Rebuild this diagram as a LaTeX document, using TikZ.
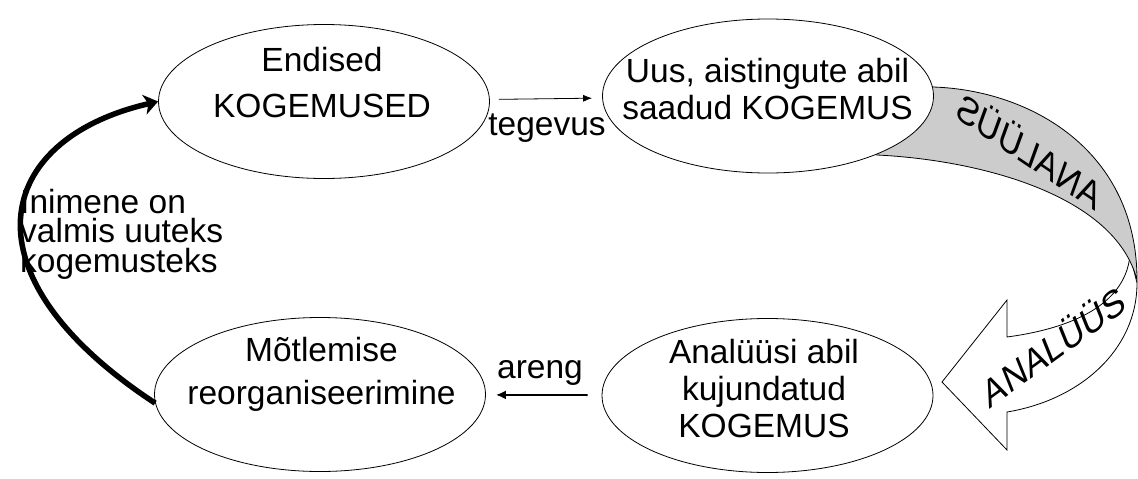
\documentclass[tikz,border=0pt]{standalone}
\usepackage{fontspec}
\setmainfont{Liberation Sans}
\newfontfamily\ribbonfont[FakeSlant=0.25]{Liberation Sans}
\usepackage{graphicx}
\usetikzlibrary{shapes.geometric,arrows.meta}

\tikzset{
  bubble/.style={draw, ellipse, line width=0.8pt, fill=white,
    minimum width=331pt, minimum height=154pt, inner sep=0pt},
  bubbletext/.style={align=center, inner sep=0pt,
    font=\fontsize{33.5}{37}\selectfont},
  lbl/.style={inner sep=0pt, font=\fontsize{33.5}{37}\selectfont},
  ribbontext/.style={inner sep=0pt, font=\ribbonfont\fontsize{36}{36}\selectfont},
}

\begin{document}
\begin{tikzpicture}[x=1pt,y=-1pt]
   \useasboundingbox (0,0) rectangle (1138,479);

   % ribbon ANALUUS
   \draw[line width=0.8pt, fill=white] (1130,255) .. controls (1125,310) and (1060,330) .. (1007,337)
      -- (1007,300) -- (942,382) -- (1007,450) -- (1007,412)
      .. controls (1080,400) and (1137,350) .. (1137,283) -- cycle;
   \draw[line width=0.8pt, fill=black!20] (925,80) -- (933,87)
      .. controls (1030,90) and (1137,150) .. (1137,280)
      .. controls (1115,195) and (980,160) .. (877,155) -- (860,150) -- cycle;
   \node[ribbontext, rotate=-34] (tagurpidi) at (1033,152) {\reflectbox{ANALÜÜS}};
   \node[ribbontext, rotate=36] (analyystekst) at (1050,347) {ANALÜÜS};

   % ellipsid
   \node[bubble] (endised) at (324,101.5) {};
   \node[bubble] (uus) at (768,96) {};
   \node[bubble] (analyys) at (767.5,395.5) {};
   \node[bubble] (motlemine) at (320,394.5) {};

   \node[bubbletext] (endisedtekst) at (322,82.75) {Endised\\[9pt]KOGEMUSED};
   \node[bubbletext] (uustekst) at (767.5,89.25) {Uus, aistingute abil\\saadud KOGEMUS};
   \node[bubbletext] (analyystekst2) at (764,388.75) {Analüüsi abil\\kujundatud\\KOGEMUS};
   \node[bubbletext] (motleminetekst) at (321.5,374.75) {Mõtlemise\\[6pt]reorganiseerimine};

   % nooled
   \draw[-{Latex[length=9pt,width=7pt]}, line width=0.8pt, shorten <=9pt, shorten >=10pt] (endised) -- (uus);
   \node[lbl, anchor=base] (tegevus) at (547,135) {tegevus};
   \draw[-{Latex[length=10pt,width=9pt]}, line width=1.8pt, shorten <=14pt, shorten >=10pt] (analyys) -- (motlemine);
   \node[lbl, anchor=base] (areng) at (540,378) {areng};

   \draw[-{Stealth[length=14pt,width=20pt,inset=4pt]}, line width=5.5pt]
      (motlemine.183) .. controls +(-195,-128) and +(-165,38) .. (endised.west);
   \node[lbl, align=left, anchor=west, font=\fontsize{33.5}{29.5}\selectfont] (valmis) at (20,234)
      {Inimene on\\valmis uuteks\\kogemusteks};

\end{tikzpicture}
\end{document}
